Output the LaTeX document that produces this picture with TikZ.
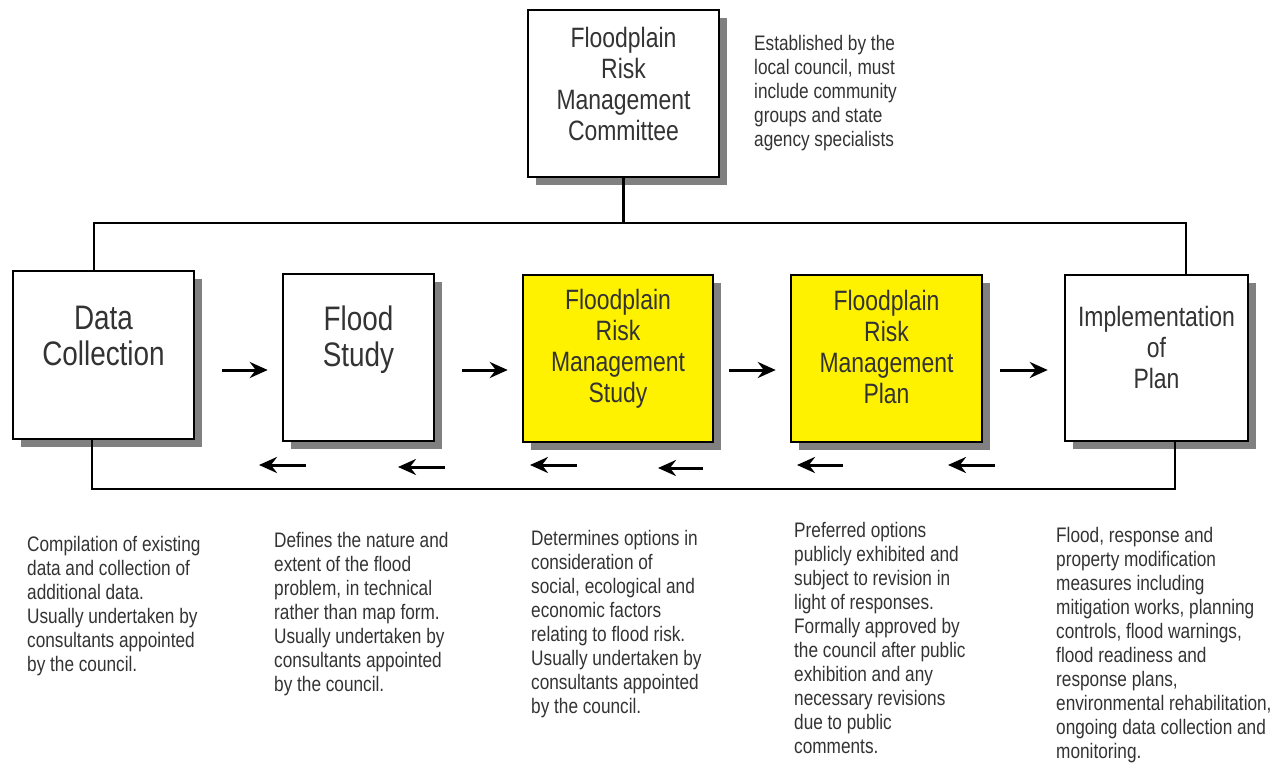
\documentclass[tikz,border=0pt]{standalone}
\usepackage{fontspec}
\setmainfont{Liberation Sans}[FakeStretch=0.82]
\usetikzlibrary{arrows.meta,shadows}

\tikzset{
  box/.style={draw=black, line width=2.5pt, fill=white, inner sep=0pt,
    drop shadow={shadow xshift=8pt, shadow yshift=-8pt, fill=black!50, opacity=1}},
  hot/.style={box, fill=yellow},
  boxtext/.style={align=center, text=black!80, inner sep=0pt,
    font=\fontsize{28}{31}\selectfont},
  bigtext/.style={boxtext, font=\fontsize{34}{36}\selectfont},
  note/.style={align=left, anchor=north west, inner sep=0pt, text=black!80,
    font=\fontsize{21}{24}\selectfont},
  link/.style={line width=2.5pt},
  fwd/.style={line width=3pt, -{Stealth[length=18pt,width=16pt,inset=6pt]}},
}

\begin{document}
\begin{tikzpicture}[x=1pt, y=-1pt]
\useasboundingbox (0,0) rectangle (1287,767);

% committee on top
\node[box, minimum width=191pt, minimum height=167pt] (frmc) at (623.5,93.5) {};
\node[boxtext] (frmct) at (623.5,84) {Floodplain\\Risk\\Management\\Committee};
\node[note] (frmcn) at (754,35) {Established by the\\local council, must\\include community\\groups and state\\agency specialists};

% the five stages
\node[box, minimum width=181pt, minimum height=168pt] (dc) at (103.5,355) {};
\node[bigtext] (dct) at (103.5,336) {Data\\Collection};
\node[box, minimum width=151pt, minimum height=167pt] (fs) at (358.5,357.5) {};
\node[bigtext] (fst) at (358.5,340) {Flood\\Study};
\node[hot, minimum width=190pt, minimum height=167pt] (frms) at (618,358.5) {};
\node[boxtext] (frmst) at (618,349) {Floodplain\\Risk\\Management\\Study};
\node[hot, minimum width=191pt, minimum height=167pt] (frmp) at (886.5,358.5) {};
\node[boxtext] (frmpt) at (886.5,347) {Floodplain\\Risk\\Management\\Plan};
\node[box, minimum width=183pt, minimum height=166pt] (impl) at (1156.5,358) {};
\node[boxtext] (implt) at (1156.5,347) {Implementation\\of\\Plan};

% tree above and return line below
\coordinate (tee) at (623.5,223);
\coordinate (low) at (623.5,489);
\draw[link] (frmc.south) -- (tee);
\draw[link] ([xshift=-9.5pt]dc.north) |- (tee) -| ([xshift=29.5pt]impl.north);
\draw[link] ([xshift=-11.5pt]dc.south) |- (low) -| ([xshift=18.5pt]impl.south);

% forward arrows
\coordinate (row) at (0,370);
\draw[fwd, shorten <=27pt, shorten >=14pt] (dc.east |- row) -- (fs.west |- row);
\draw[fwd, shorten <=27pt, shorten >=14pt] (fs.east |- row) -- (frms.west |- row);
\draw[fwd, shorten <=15pt, shorten >=14pt] (frms.east |- row) -- (frmp.west |- row);
\draw[fwd, shorten <=17pt, shorten >=16pt] (frmp.east |- row) -- (impl.west |- row);

% feedback arrows
\foreach \i/\a/\b/\y in {1/306/259/465, 2/445/398/467, 3/577/530/465,
                         4/703/658/468, 5/843/797/465, 6/995/948/465}{
  \coordinate (bk\i a) at (\a,\y);
  \coordinate (bk\i b) at (\b,\y);
  \draw[fwd] (bk\i a) -- (bk\i b);
}

% descriptions
\node[note] (dcn) at (27,536) {Compilation of existing\\data and collection of\\additional data.\\Usually undertaken by\\consultants appointed\\by the council.};
\node[note] (fsn) at (274,532) {Defines the nature and\\extent of the flood\\problem, in technical\\rather than map form.\\Usually undertaken by\\consultants appointed\\by the council.};
\node[note] (frmsn) at (531,530) {Determines options in\\consideration of\\social, ecological and\\economic factors\\relating to flood risk.\\Usually undertaken by\\consultants appointed\\by the council.};
\node[note] (frmpn) at (794,522) {Preferred options\\publicly exhibited and\\subject to revision in\\light of responses.\\Formally approved by\\the council after public\\exhibition and any\\necessary revisions\\due to public\\comments.};
\node[note] (impln) at (1056,527) {Flood, response and\\property modification\\measures including\\mitigation works, planning\\controls, flood warnings,\\flood readiness and\\response plans,\\environmental rehabilitation,\\ongoing data collection and\\monitoring.};
\end{tikzpicture}
\end{document}
